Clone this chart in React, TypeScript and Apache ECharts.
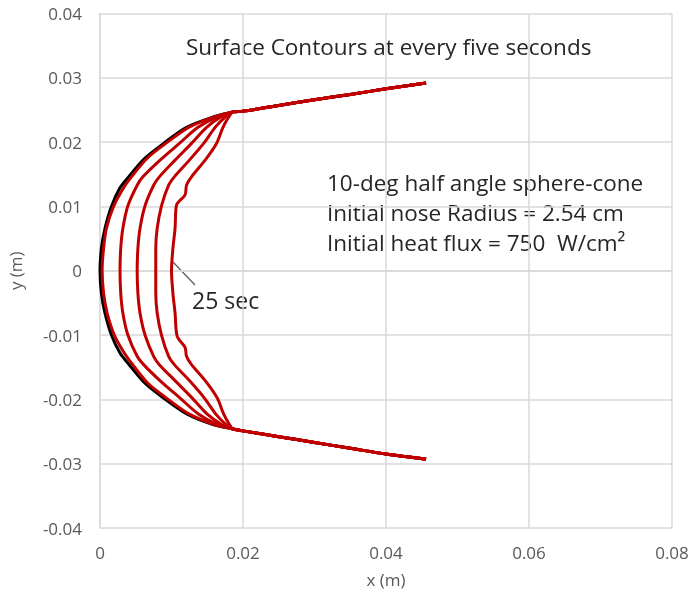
import React, { useEffect, useRef } from "react";
import * as echarts from "echarts";

// Shared cone flank (from shoulder junction outwards)
const coneUpper: number[][] = [
  [0.0186, 0.0247], [0.020, 0.0248], [0.025, 0.0257], [0.030, 0.0266],
  [0.035, 0.0274], [0.040, 0.0283], [0.0456, 0.0292],
];
const coneLower: number[][] = [
  [0.0186, -0.0246], [0.020, -0.0249], [0.025, -0.0258], [0.030, -0.0267],
  [0.035, -0.0276], [0.040, -0.0285], [0.0456, -0.0293],
];

// Nose caps: upper from shoulder to stagnation point, lower from stagnation point to shoulder
const cap0Upper = [[0.0158, 0.0239], [0.0121, 0.0223], [0.0089, 0.0198], [0.0063, 0.0175], [0.0040, 0.0146], [0.0028, 0.0129], [0.0016, 0.0100], [0.0007, 0.0066], [0.0002, 0.0035], [0.0000, 0.0]];
const cap0Lower = [[0.0002, -0.0035], [0.0007, -0.0066], [0.0016, -0.0100], [0.0028, -0.0128], [0.0040, -0.0145], [0.0063, -0.0175], [0.0089, -0.0198], [0.0122, -0.0223], [0.0158, -0.0239]];

const cap5Upper = [[0.0159, 0.0239], [0.0124, 0.0223], [0.0092, 0.0198], [0.0066, 0.0175], [0.0044, 0.0146], [0.0033, 0.0129], [0.0019, 0.0100], [0.0009, 0.0066], [0.0005, 0.0035], [0.0003, 0.0]];
const cap5Lower = [[0.0005, -0.0035], [0.0010, -0.0066], [0.0020, -0.0100], [0.0034, -0.0128], [0.0045, -0.0145], [0.0067, -0.0175], [0.0093, -0.0198], [0.0125, -0.0223], [0.0160, -0.0239]];

const cap10Upper = [[0.0163, 0.0239], [0.0137, 0.0223], [0.0111, 0.0198], [0.0084, 0.0172], [0.0060, 0.0146], [0.0052, 0.0133], [0.0039, 0.0101], [0.0032, 0.0066], [0.0029, 0.0035], [0.0028, 0.0]];
const cap10Lower = [[0.0029, -0.0035], [0.0032, -0.0066], [0.0039, -0.0100], [0.0052, -0.0133], [0.0061, -0.0146], [0.0085, -0.0172], [0.0112, -0.0198], [0.0138, -0.0223], [0.0164, -0.0239]];

const cap15Upper = [[0.0169, 0.0239], [0.0149, 0.0223], [0.0128, 0.0198], [0.0105, 0.0172], [0.0083, 0.0146], [0.0075, 0.0133], [0.0063, 0.0101], [0.0056, 0.0066], [0.0053, 0.0035], [0.0052, 0.0]];
const cap15Lower = [[0.0053, -0.0035], [0.0056, -0.0066], [0.0063, -0.0100], [0.0075, -0.0133], [0.0083, -0.0146], [0.0106, -0.0172], [0.0129, -0.0198], [0.0150, -0.0223], [0.0170, -0.0239]];

const cap20Upper = [[0.0175, 0.0239], [0.0161, 0.0223], [0.0145, 0.0198], [0.0125, 0.0172], [0.0104, 0.0146], [0.0096, 0.0133], [0.0086, 0.0101], [0.0080, 0.0066], [0.0078, 0.0035], [0.0078, 0.0]];
const cap20Lower = [[0.0078, -0.0035], [0.0080, -0.0066], [0.0086, -0.0100], [0.0096, -0.0133], [0.0104, -0.0146], [0.0126, -0.0172], [0.0146, -0.0198], [0.0162, -0.0223], [0.0176, -0.0239]];

const cap25Upper = [[0.0180, 0.0239], [0.0172, 0.0223], [0.0163, 0.0198], [0.0147, 0.0172], [0.0128, 0.0146], [0.0121, 0.0133], [0.0119, 0.0118], [0.0107, 0.0102], [0.0105, 0.0066], [0.0102, 0.0035], [0.0100, 0.0]];
const cap25Lower = [[0.0102, -0.0035], [0.0105, -0.0066], [0.0108, -0.0102], [0.0119, -0.0119], [0.0121, -0.0133], [0.0128, -0.0146], [0.0148, -0.0172], [0.0164, -0.0198], [0.0173, -0.0223], [0.0181, -0.0239]];

const times = ["0 sec", "5 sec", "10 sec", "15 sec", "20 sec", "25 sec"];
const caps = [
  [cap0Upper, cap0Lower], [cap5Upper, cap5Lower], [cap10Upper, cap10Lower],
  [cap15Upper, cap15Lower], [cap20Upper, cap20Lower], [cap25Upper, cap25Lower],
];

const xTicks = [0, 0.02, 0.04, 0.06, 0.08];
const yTicks = [-0.04, -0.03, -0.02, -0.01, 0, 0.01, 0.02, 0.03, 0.04];

const titleText = "Surface Contours at every five seconds";
const infoLines = [
  "10-deg half angle sphere-cone",
  "Initial nose Radius = 2.54 cm",
  "Initial heat flux = 750  W/cm²",
];
const calloutText = "25 sec";

const FONT = "'Open Sans', 'Noto Sans', sans-serif";

export default function App() {
  const ref = useRef<HTMLDivElement>(null);
  useEffect(() => {
    if (!ref.current) return;
    const chart = echarts.init(ref.current, null, { renderer: "svg" });
    const series = caps.map(([up, low], i) => ({
      name: times[i],
      type: "line",
      data: [...coneUpper.slice().reverse(), ...up, ...low, ...coneLower],
      showSymbol: false,
      smooth: 0.3,
      lineStyle: { width: 3, color: i === 0 ? "#000000" : "#C00000" },
      z: 2 + i,
    }));
    const fmt = (v: number) => String(+v.toFixed(2));
    chart.setOption({
      animation: false,
      grid: { left: 100, top: 13.5, right: 17, bottom: 81, containLabel: false, outerBoundsMode: "none" },
      xAxis: {
        type: "value",
        min: xTicks[0],
        max: xTicks[xTicks.length - 1],
        interval: 0.02,
        name: "x (m)",
        nameLocation: "middle",
        nameGap: 43,
        nameTextStyle: { color: "#595959", fontSize: 17, fontFamily: FONT },
        axisLine: { show: true, lineStyle: { color: "#d9d9d9", width: 1.5 } },
        axisTick: { show: false },
        axisLabel: { formatter: fmt, color: "#595959", fontSize: 17, fontFamily: FONT, margin: 16 },
        splitLine: { show: true, lineStyle: { color: "#d9d9d9", width: 1.5 } },
      },
      yAxis: {
        type: "value",
        min: yTicks[0],
        max: yTicks[yTicks.length - 1],
        interval: 0.01,
        name: "y (m)",
        nameLocation: "middle",
        nameGap: 76,
        nameTextStyle: { color: "#595959", fontSize: 17, fontFamily: FONT },
        axisLine: { show: true, onZero: false, lineStyle: { color: "#d9d9d9", width: 1.5 } },
        axisTick: { show: false },
        axisLabel: { formatter: fmt, color: "#595959", fontSize: 17, fontFamily: FONT, margin: 18 },
        splitLine: { show: true, lineStyle: { color: "#d9d9d9", width: 1.5 } },
      },
      series,
      graphic: [
        {
          type: "text",
          left: 186,
          top: 35,
          style: { text: titleText, font: `22.5px ${FONT}`, fill: "#262626" },
        },
        ...infoLines.map((t, i) => ({
          type: "text",
          left: 327,
          top: 170.5 + i * 30,
          style: { text: t, font: `22.5px ${FONT}`, fill: "#262626" },
        })),
        {
          type: "line",
          shape: { x1: 173, y1: 262, x2: 195, y2: 285 },
          style: { stroke: "#595959", lineWidth: 1.2 },
        },
        {
          type: "text",
          left: 192,
          top: 288.5,
          style: { text: calloutText, font: `23px ${FONT}`, fill: "#262626" },
        },
      ],
    });
    return () => chart.dispose();
  }, []);
  return <div ref={ref} style={{ position: "fixed", left: 0, top: 0, width: 689, height: 609 }} />;
}
